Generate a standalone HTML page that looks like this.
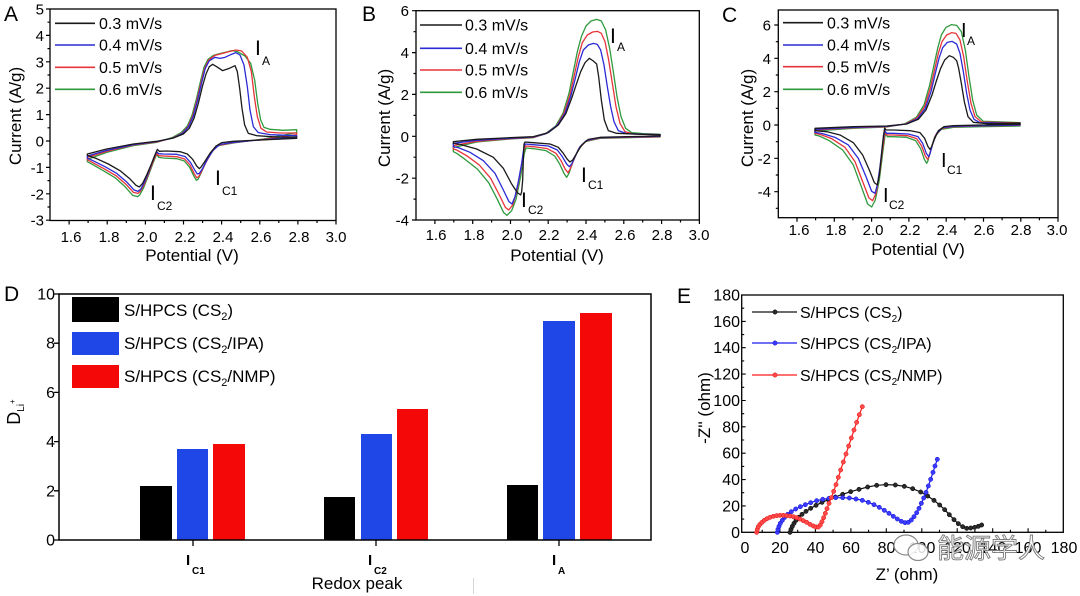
<!DOCTYPE html>
<html><head><meta charset="utf-8"><style>
html,body{margin:0;padding:0;background:#fff;}
svg{display:block;font-family:"Liberation Sans","Noto Sans CJK SC",sans-serif;}
.c{fill:none;stroke-width:1.3;stroke-linejoin:round;}
</style></head><body>
<svg width="1080" height="596" viewBox="0 0 1080 596" xmlns="http://www.w3.org/2000/svg">
<rect width="1080" height="596" fill="#fff"/>
<defs>
<marker id="mk" markerUnits="userSpaceOnUse" markerWidth="20" markerHeight="20" refX="10" refY="10" viewBox="0 0 20 20"><circle cx="10" cy="10" r="6.5" fill="#2a2a2a" stroke="#000" stroke-width="1.5"/></marker>
<marker id="mb" markerUnits="userSpaceOnUse" markerWidth="20" markerHeight="20" refX="10" refY="10" viewBox="0 0 20 20"><circle cx="10" cy="10" r="6.5" fill="#3b3bff" stroke="#1010d0" stroke-width="1.5"/></marker>
<marker id="mr" markerUnits="userSpaceOnUse" markerWidth="20" markerHeight="20" refX="10" refY="10" viewBox="0 0 20 20"><circle cx="10" cy="10" r="6.5" fill="#ff4a4a" stroke="#e01010" stroke-width="1.5"/></marker>
</defs>

<!-- ================= PANEL A ================= -->
<text x="4" y="21" font-size="21">A</text>
<rect x="50" y="9" width="286" height="211.5" fill="none" stroke="#000" stroke-width="1.3"/>
<path stroke="#000" stroke-width="1.2" d="M69.1,220.5v4M107.2,220.5v4M145.4,220.5v4M183.5,220.5v4M221.6,220.5v4M259.8,220.5v4M297.9,220.5v4M336,220.5v4M88.1,220.5v2.5M126.3,220.5v2.5M164.4,220.5v2.5M202.6,220.5v2.5M240.7,220.5v2.5M278.8,220.5v2.5M317,220.5v2.5
M50,9h-4M50,35.4h-4M50,61.8h-4M50,88.2h-4M50,114.6h-4M50,141h-4M50,167.4h-4M50,193.8h-4M50,220.2h-4M50,22.2h-2.5M50,48.6h-2.5M50,75h-2.5M50,101.4h-2.5M50,127.8h-2.5M50,154.2h-2.5M50,180.6h-2.5M50,207h-2.5"/>
<g font-size="15" text-anchor="end">
<text x="44" y="14.5">5</text><text x="44" y="40.9">4</text><text x="44" y="67.3">3</text><text x="44" y="93.7">2</text><text x="44" y="120.1">1</text><text x="44" y="146.5">0</text><text x="44" y="172.9">-1</text><text x="44" y="199.3">-2</text><text x="44" y="225.7">-3</text>
</g>
<g font-size="15" text-anchor="middle">
<text x="71" y="242">1.6</text><text x="109" y="242">1.8</text><text x="147" y="242">2.0</text><text x="185" y="242">2.2</text><text x="223" y="242">2.4</text><text x="261" y="242">2.6</text><text x="299" y="242">2.8</text><text x="336" y="242">3.0</text>
</g>
<text x="192" y="261" font-size="17" text-anchor="middle">Potential (V)</text>
<text transform="translate(21,116) rotate(-90)" font-size="17" text-anchor="middle">Current (A/g)</text>
<g transform="scale(0.33333)">
<path class="c" vector-effect="non-scaling-stroke" stroke="#2f9a3e" d="M262,478 L320,457 L400,437 L470,427 L516,413 L543,398 L562,378 L576,346 L589,298 L601,246 L612,202 L624,178 L640,166 L662,160 L680,156 L695,152 L712,155 L735,168 L752,190 L764,240 L773,310 L782,360 L792,382 L810,388 L850,391 L890,389 L890,398 L790,417 L700,429 L650,438 L632,458 L615,492 L602,522 L594,538 L589,541 L581,527 L569,502 L553,483 L530,476 L490,474 L476,472 L470,463 L460,487 L444,530 L430,565 L419,585 L413,590 L398,586 L375,560 L345,533 L310,512 L282,496 L262,485 Z"/>
<path class="c" vector-effect="non-scaling-stroke" stroke="#e6343a" d="M262,472 L320,454 L400,435 L470,426 L518,414 L546,400 L564,380 L578,348 L591,300 L603,248 L614,205 L626,180 L645,166 L668,160 L690,154 L708,150 L725,153 L742,172 L754,215 L763,290 L772,350 L783,385 L800,396 L840,399 L890,399 L890,404 L790,418 L700,428 L655,436 L636,455 L618,487 L604,515 L596,530 L590,533 L582,520 L570,495 L554,477 L530,470 L490,468 L476,467 L470,460 L461,480 L446,520 L432,555 L420,575 L414,580 L400,577 L378,553 L348,527 L312,506 L282,490 L262,479 Z"/>
<path class="c" vector-effect="non-scaling-stroke" stroke="#2b2bd6" d="M262,468 L320,451 L400,434 L470,425 L520,414 L548,400 L566,380 L580,348 L593,300 L605,248 L616,205 L628,182 L645,172 L660,175 L675,172 L692,164 L708,158 L720,165 L732,195 L742,260 L750,330 L760,380 L775,398 L810,404 L890,407 L890,411 L790,419 L700,427 L660,433 L640,450 L622,478 L608,505 L598,520 L592,522 L584,510 L572,488 L556,470 L530,463 L490,462 L476,461 L470,455 L462,472 L448,510 L434,545 L422,568 L414,574 L402,570 L380,546 L350,520 L315,500 L285,485 L262,474 Z"/>
<path class="c" vector-effect="non-scaling-stroke" stroke="#1a1a1a" d="M262,462 L320,447 L400,432 L470,424 L520,414 L550,402 L568,385 L582,355 L595,310 L607,260 L618,222 L628,200 L638,193 L650,200 L668,212 L688,205 L705,197 L712,215 L719,265 L726,325 L734,375 L745,400 L770,407 L830,411 L890,411 L890,415 L800,419 L700,424 L665,428 L648,438 L630,460 L614,485 L604,500 L598,506 L590,498 L578,478 L562,462 L540,455 L500,453 L478,454 L472,448 L466,462 L455,490 L440,525 L428,550 L418,561 L408,556 L388,535 L360,512 L325,492 L290,476 L262,466 Z"/>
</g>
<g stroke-width="1.6">
<line x1="55" y1="23.3" x2="95" y2="23.3" stroke="#1a1a1a"/>
<line x1="55" y1="45" x2="95" y2="45" stroke="#2b2bd6"/>
<line x1="55" y1="67.3" x2="95" y2="67.3" stroke="#e6343a"/>
<line x1="55" y1="89.3" x2="95" y2="89.3" stroke="#2f9a3e"/>
</g>
<g font-size="16">
<text x="99" y="29">0.3 mV/s</text><text x="99" y="50.7">0.4 mV/s</text><text x="99" y="73">0.5 mV/s</text><text x="99" y="95">0.6 mV/s</text>
</g>
<text x="255" y="55" font-size="21">I</text><text x="262" y="65" font-size="12">A</text>
<text x="215" y="185" font-size="21">I</text><text x="222" y="195" font-size="12">C1</text>
<text x="150" y="200" font-size="21">I</text><text x="157" y="210" font-size="12">C2</text>

<!-- ================= PANEL B ================= -->
<text x="362" y="21" font-size="21">B</text>
<rect x="416" y="10.7" width="283.3" height="209.3" fill="none" stroke="#000" stroke-width="1.3"/>
<path stroke="#000" stroke-width="1.2" d="M434.9,220v4M472.7,220v4M510.5,220v4M548.2,220v4M586,220v4M623.8,220v4M661.6,220v4M699.4,220v4M453.8,220v2.5M491.6,220v2.5M529.3,220v2.5M567.1,220v2.5M604.9,220v2.5M642.7,220v2.5M680.5,220v2.5
M416,10.7h-4M416,52.6h-4M416,94.4h-4M416,136.3h-4M416,178.2h-4M416,220h-4M416,31.7h-2.5M416,73.5h-2.5M416,115.4h-2.5M416,157.2h-2.5M416,199.1h-2.5"/>
<g font-size="15" text-anchor="end">
<text x="409" y="16.2">6</text><text x="409" y="58.1">4</text><text x="409" y="99.9">2</text><text x="409" y="141.8">0</text><text x="409" y="183.7">-2</text><text x="409" y="225.5">-4</text>
</g>
<g font-size="15" text-anchor="middle">
<text x="436" y="240">1.6</text><text x="474" y="240">1.8</text><text x="512" y="240">2.0</text><text x="549" y="240">2.2</text><text x="587" y="240">2.4</text><text x="625" y="240">2.6</text><text x="662" y="240">2.8</text><text x="699" y="240">3.0</text>
</g>
<text x="557" y="261" font-size="17" text-anchor="middle">Potential (V)</text>
<text transform="translate(390,118) rotate(-90)" font-size="17" text-anchor="middle">Current (A/g)</text>
<g transform="translate(360,0) scale(0.33333)">
<path class="c" vector-effect="non-scaling-stroke" stroke="#2f9a3e" d="M280,443 L350,426 L450,417 L520,413 L555,402 L587,378 L609,340 L627,280 L640,215 L652,155 L664,110 L678,78 L693,63 L710,58 L724,63 L737,90 L749,145 L760,215 L771,290 L783,350 L797,385 L815,398 L850,401 L900,403 L900,411 L800,413 L720,415 L676,425 L654,450 L638,488 L627,520 L620,532 L612,520 L599,492 L584,468 L558,452 L520,446 L498,444 L493,460 L482,530 L468,598 L455,632 L441,646 L431,638 L412,598 L386,548 L352,507 L315,478 L290,460 L280,455 Z"/>
<path class="c" vector-effect="non-scaling-stroke" stroke="#e6343a" d="M280,437 L350,424 L450,416 L520,412 L558,401 L590,377 L612,340 L630,285 L643,225 L655,170 L667,128 L682,105 L698,96 L712,94 L724,100 L735,125 L746,180 L757,250 L768,320 L780,370 L795,395 L820,402 L900,404 L900,410 L800,412 L720,414 L678,423 L657,445 L641,480 L630,508 L624,518 L616,508 L603,482 L588,460 L562,446 L520,440 L497,438 L492,450 L482,510 L470,575 L458,615 L446,630 L436,622 L418,585 L392,535 L358,495 L320,467 L290,450 L280,447 Z"/>
<path class="c" vector-effect="non-scaling-stroke" stroke="#2b2bd6" d="M280,430 L350,421 L450,415 L520,411 L560,400 L592,376 L615,340 L632,290 L646,235 L658,185 L670,150 L685,135 L700,130 L712,133 L722,150 L732,195 L742,260 L752,320 L762,365 L775,392 L800,401 L900,404 L900,409 L800,411 L720,413 L680,421 L660,440 L645,470 L635,492 L628,500 L620,492 L607,470 L592,450 L565,438 L520,434 L496,432 L492,440 L485,490 L475,545 L465,590 L456,612 L447,605 L430,570 L405,520 L370,482 L330,457 L295,443 L280,440 Z"/>
<path class="c" vector-effect="non-scaling-stroke" stroke="#1a1a1a" d="M280,425 L350,418 L450,413 L520,410 L565,398 L595,375 L618,340 L635,295 L650,250 L662,215 L675,188 L688,175 L700,183 L710,192 L716,230 L724,300 L733,360 L745,392 L770,400 L850,403 L900,404 L900,408 L800,410 L720,412 L685,418 L665,435 L650,460 L638,480 L630,486 L622,478 L610,460 L595,442 L570,432 L520,428 L495,426 L492,432 L490,480 L488,540 L485,575 L482,585 L472,578 L455,552 L430,505 L400,472 L350,447 L300,433 L280,430 Z"/>
</g>
<g stroke-width="1.6">
<line x1="420" y1="25" x2="462" y2="25" stroke="#1a1a1a"/>
<line x1="420" y1="48.3" x2="462" y2="48.3" stroke="#2b2bd6"/>
<line x1="420" y1="70" x2="462" y2="70" stroke="#e6343a"/>
<line x1="420" y1="92.3" x2="462" y2="92.3" stroke="#2f9a3e"/>
</g>
<g font-size="16">
<text x="465" y="30.7">0.3 mV/s</text><text x="465" y="54">0.4 mV/s</text><text x="465" y="75.7">0.5 mV/s</text><text x="465" y="98">0.6 mV/s</text>
</g>
<text x="610" y="43" font-size="21">I</text><text x="617" y="51" font-size="12">A</text>
<text x="581" y="182" font-size="21">I</text><text x="588" y="189" font-size="12">C1</text>
<text x="521" y="207" font-size="21">I</text><text x="528" y="214" font-size="12">C2</text>

<!-- ================= PANEL C ================= -->
<text x="722" y="22" font-size="21">C</text>
<rect x="778.3" y="10" width="279.7" height="207.7" fill="none" stroke="#000" stroke-width="1.3"/>
<path stroke="#000" stroke-width="1.2" d="M797,217.7v4M834.3,217.7v4M871.6,217.7v4M908.9,217.7v4M946.2,217.7v4M983.5,217.7v4M1020.8,217.7v4M1058,217.7v4M815.6,217.7v2.5M852.9,217.7v2.5M890.2,217.7v2.5M927.5,217.7v2.5M964.8,217.7v2.5M1002.1,217.7v2.5M1039.4,217.7v2.5
M778.3,25h-4M778.3,58.3h-4M778.3,91.7h-4M778.3,125h-4M778.3,158.3h-4M778.3,191.7h-4M778.3,41.7h-2.5M778.3,75h-2.5M778.3,108.3h-2.5M778.3,141.7h-2.5M778.3,175h-2.5M778.3,208.3h-2.5"/>
<g font-size="15" text-anchor="end">
<text x="771" y="30.5">6</text><text x="771" y="63.8">4</text><text x="771" y="97.2">2</text><text x="771" y="130.5">0</text><text x="771" y="163.8">-2</text><text x="771" y="197.2">-4</text>
</g>
<g font-size="15" text-anchor="middle">
<text x="799" y="235">1.6</text><text x="836" y="235">1.8</text><text x="873" y="235">2.0</text><text x="910" y="235">2.2</text><text x="947" y="235">2.4</text><text x="984" y="235">2.6</text><text x="1021" y="235">2.8</text><text x="1057" y="235">3.0</text>
</g>
<text x="918" y="255" font-size="17" text-anchor="middle">Potential (V)</text>
<text transform="translate(753,118) rotate(-90)" font-size="17" text-anchor="middle">Current (A/g)</text>
<g transform="translate(720,0) scale(0.33333)">
<path class="c" vector-effect="non-scaling-stroke" stroke="#2f9a3e" d="M285,393 L400,385 L500,381 L554,372 L589,352 L612,315 L629,255 L642,195 L653,145 L664,105 L678,82 L694,74 L710,76 L724,95 L736,150 L747,230 L758,300 L770,345 L790,364 L900,368 L900,378 L780,380 L700,382 L664,388 L644,410 L632,450 L624,482 L620,490 L613,478 L602,446 L587,422 L560,412 L520,410 L502,410 L496,400 L488,460 L478,540 L466,600 L455,621 L443,612 L424,560 L400,495 L368,450 L328,422 L298,408 L285,405 Z"/>
<path class="c" vector-effect="non-scaling-stroke" stroke="#e6343a" d="M285,390 L400,383 L500,380 L556,372 L591,354 L614,320 L631,265 L644,208 L655,160 L666,125 L680,105 L695,98 L708,100 L720,120 L731,170 L742,245 L753,310 L765,350 L785,366 L900,369 L900,376 L780,378 L700,380 L666,385 L647,405 L635,440 L627,470 L623,478 L616,468 L605,438 L590,416 L562,407 L520,405 L501,405 L495,396 L488,445 L479,520 L468,580 L458,602 L447,594 L428,545 L405,485 L375,442 L335,416 L300,403 L285,400 Z"/>
<path class="c" vector-effect="non-scaling-stroke" stroke="#2b2bd6" d="M285,388 L400,382 L500,379 L558,372 L593,356 L616,325 L633,275 L646,220 L657,175 L668,143 L682,127 L696,124 L710,132 L720,160 L730,215 L740,280 L750,330 L762,358 L780,368 L900,370 L900,375 L780,377 L700,379 L668,383 L650,400 L638,432 L630,462 L626,470 L619,460 L608,430 L594,410 L565,402 L520,400 L500,400 L494,392 L488,430 L480,500 L472,555 L465,580 L455,574 L438,530 L415,475 L385,435 L345,412 L305,400 L285,397 Z"/>
<path class="c" vector-effect="non-scaling-stroke" stroke="#1a1a1a" d="M285,385 L400,380 L500,378 L560,372 L595,358 L618,330 L636,285 L650,240 L662,205 L674,180 L688,167 L700,172 L710,182 L716,205 L724,250 L733,305 L744,350 L760,367 L800,371 L900,369 L900,373 L780,375 L700,377 L672,380 L655,392 L643,418 L635,440 L630,448 L624,440 L614,415 L600,398 L570,392 L520,390 L498,390 L494,384 L490,410 L484,470 L478,525 L472,555 L463,548 L448,510 L428,465 L400,428 L360,405 L320,395 L285,392 Z"/>
</g>
<g stroke-width="1.6">
<line x1="783" y1="22.7" x2="823" y2="22.7" stroke="#1a1a1a"/>
<line x1="783" y1="45" x2="823" y2="45" stroke="#2b2bd6"/>
<line x1="783" y1="66.7" x2="823" y2="66.7" stroke="#e6343a"/>
<line x1="783" y1="89.3" x2="823" y2="89.3" stroke="#2f9a3e"/>
</g>
<g font-size="16">
<text x="827" y="28.4">0.3 mV/s</text><text x="827" y="50.7">0.4 mV/s</text><text x="827" y="72.4">0.5 mV/s</text><text x="827" y="95">0.6 mV/s</text>
</g>
<text x="961" y="37" font-size="20">I</text><text x="967" y="45" font-size="12">A</text>
<text x="941" y="167" font-size="20">I</text><text x="947" y="174" font-size="12">C1</text>
<text x="883" y="202" font-size="20">I</text><text x="889" y="209" font-size="12">C2</text>

<!-- ================= PANEL D ================= -->
<text x="4" y="301" font-size="21">D</text>
<g>
<rect x="140" y="486" width="32" height="54" fill="#000"/>
<rect x="177" y="449" width="31" height="91" fill="#1f46e6"/>
<rect x="213" y="444" width="32" height="96" fill="#f50808"/>
<rect x="324" y="497" width="31" height="43" fill="#000"/>
<rect x="361" y="434" width="31" height="106" fill="#1f46e6"/>
<rect x="397" y="409" width="31" height="131" fill="#f50808"/>
<rect x="507" y="485" width="31" height="55" fill="#000"/>
<rect x="543" y="321" width="32" height="219" fill="#1f46e6"/>
<rect x="580" y="313" width="32" height="227" fill="#f50808"/>
</g>
<rect x="59" y="294" width="592" height="246" fill="none" stroke="#000" stroke-width="1.5"/>
<path stroke="#000" stroke-width="1.3" d="M59,294h-5M59,343.2h-5M59,392.4h-5M59,441.6h-5M59,490.8h-5M59,540h-5M193,540v6M376,540v6M559,540v6"/>
<g font-size="16" text-anchor="end">
<text x="55" y="299.5">10</text><text x="55" y="348.7">8</text><text x="55" y="397.9">6</text><text x="55" y="447.1">4</text><text x="55" y="496.3">2</text><text x="55" y="545.5">0</text>
</g>
<text transform="translate(20,412) rotate(-90)" font-size="18" text-anchor="middle">D<tspan font-size="10" dy="4">Li</tspan><tspan font-size="8" dy="-9">+</tspan></text>
<rect x="72" y="297" width="47" height="25" fill="#000"/>
<rect x="72" y="332" width="47" height="23" fill="#1f46e6"/>
<rect x="72" y="365" width="47" height="23" fill="#f50808"/>
<g font-size="17">
<text x="124" y="316">S/HPCS (CS<tspan font-size="11" dy="4">2</tspan><tspan dy="-4">)</tspan></text>
<text x="124" y="349">S/HPCS (CS<tspan font-size="11" dy="4">2</tspan><tspan dy="-4">/IPA)</tspan></text>
<text x="124" y="382">S/HPCS (CS<tspan font-size="11" dy="4">2</tspan><tspan dy="-4">/NMP)</tspan></text>
</g>
<g font-weight="bold">
<text x="186" y="565" font-size="15">I</text><text x="192" y="574" font-size="10">C1</text>
<text x="368" y="565" font-size="15">I</text><text x="374" y="574" font-size="10">C2</text>
<text x="552" y="565" font-size="15">I</text><text x="558" y="574" font-size="10">A</text>
</g>
<text x="357" y="589" font-size="17" text-anchor="middle">Redox peak</text>
<line x1="473.5" y1="578" x2="473.5" y2="594" stroke="#d6d6d6" stroke-width="1"/>

<!-- ================= PANEL E ================= -->
<text x="677" y="303" font-size="21">E</text>
<rect x="741.7" y="295" width="321.6" height="237.3" fill="none" stroke="#000" stroke-width="1.3"/>
<path stroke="#000" stroke-width="1.1" d="M779.9,532.3v-4M815.4,532.3v-4M850.9,532.3v-4M886.3,532.3v-4M921.8,532.3v-4M957.2,532.3v-4M992.7,532.3v-4M1028.1,532.3v-4M762.2,532.3v-2.5M797.7,532.3v-2.5M833.1,532.3v-2.5M868.6,532.3v-2.5M904,532.3v-2.5M939.5,532.3v-2.5M974.9,532.3v-2.5M1010.4,532.3v-2.5M1045.8,532.3v-2.5
M741.7,505.9h4M741.7,479.6h4M741.7,453.2h4M741.7,426.8h4M741.7,400.5h4M741.7,374.1h4M741.7,347.7h4M741.7,321.4h4M741.7,519.1h2.5M741.7,492.7h2.5M741.7,466.4h2.5M741.7,440h2.5M741.7,413.7h2.5M741.7,387.3h2.5M741.7,360.9h2.5M741.7,334.6h2.5M741.7,308.2h2.5"/>
<g font-size="16" text-anchor="end">
<text x="740" y="300.5">180</text><text x="740" y="326.9">160</text><text x="740" y="353.2">140</text><text x="740" y="379.6">120</text><text x="740" y="406">100</text><text x="740" y="432.3">80</text><text x="740" y="458.7">60</text><text x="740" y="485.1">40</text><text x="740" y="511.4">20</text><text x="740" y="537.8">0</text>
</g>
<g font-size="16" text-anchor="middle">
<text x="745" y="553">0</text><text x="780" y="553">20</text><text x="815.5" y="553">40</text><text x="851" y="553">60</text><text x="886.5" y="553">80</text><text x="922" y="553">100</text><text x="957.5" y="553">120</text><text x="993" y="553">140</text><text x="1028" y="553">160</text><text x="1064" y="553">180</text>
</g>
<text x="907" y="580" font-size="17" text-anchor="middle">Z’ (ohm)</text>
<text transform="translate(710,408) rotate(-90)" font-size="17" text-anchor="middle">-Z'' (ohm)</text>
<g transform="translate(690,270) scale(0.33333)">
<polyline fill="none" stroke="#111" stroke-width="1.2" vector-effect="non-scaling-stroke" marker-start="url(#mk)" marker-mid="url(#mk)" marker-end="url(#mk)" points="300,787 303,778 307,769 312,760 318,751 326,742 336,733 348,724 362,715 378,706 396,697 415,689 436,681 458,673 482,665 507,658 533,651 560,646 588,644 616,645 643,649 668,656 692,666 713,678 732,691 749,705 764,719 778,734 792,749 805,761 818,770 830,775 842,774 854,772 865,769 875,765"/>
<polyline fill="none" stroke="#1a1aee" stroke-width="1.2" vector-effect="non-scaling-stroke" marker-start="url(#mb)" marker-mid="url(#mb)" marker-end="url(#mb)" points="262,787 264,778 267,769 271,760 277,751 284,742 293,733 304,725 317,717 331,710 346,704 362,698 380,692 398,688 417,685 437,683 458,683 478,684 498,687 517,691 535,697 552,704 568,712 583,721 597,730 610,739 622,747 634,754 645,758 655,757 664,750 672,740 680,728 687,715 694,700 701,684 708,667 715,648 722,628 729,607 735,588 742,568"/>
<polyline fill="none" stroke="#ff1a1a" stroke-width="1.2" vector-effect="non-scaling-stroke" marker-start="url(#mr)" marker-mid="url(#mr)" marker-end="url(#mr)" points="200,787 202,778 205,770 210,763 216,757 223,751 231,746 240,742 250,739 260,737 270,736 280,736 290,737 300,738 310,740 320,743 330,747 340,752 350,757 360,763 370,768 378,771 385,771 391,765 396,755 401,743 406,730 411,716 417,700 424,683 431,664 438,644 445,622 452,600 460,576 468,552 476,528 484,504 492,480 500,457 508,434 517,410"/>
</g>
<g stroke-width="1.3">
<line x1="752" y1="312" x2="797" y2="312" stroke="#111"/>
<line x1="752" y1="343" x2="797" y2="343" stroke="#1a1aee"/>
<line x1="752" y1="375" x2="797" y2="375" stroke="#ff1a1a"/>
</g>
<circle cx="775" cy="312" r="2.2" fill="#2a2a2a" stroke="#000" stroke-width="0.5"/>
<circle cx="775" cy="343" r="2.2" fill="#3b3bff" stroke="#1010d0" stroke-width="0.5"/>
<circle cx="775" cy="375" r="2.2" fill="#ff4a4a" stroke="#e01010" stroke-width="0.5"/>
<g font-size="16">
<text x="800" y="318">S/HPCS (CS<tspan font-size="10" dy="4">2</tspan><tspan dy="-4">)</tspan></text>
<text x="800" y="349">S/HPCS (CS<tspan font-size="10" dy="4">2</tspan><tspan dy="-4">/IPA)</tspan></text>
<text x="800" y="381">S/HPCS (CS<tspan font-size="10" dy="4">2</tspan><tspan dy="-4">/NMP)</tspan></text>
</g>
<!-- watermark -->
<g>
<ellipse cx="906" cy="545" rx="12" ry="10" fill="#fff" fill-opacity="0.85" stroke="#8a8a8a" stroke-width="1.2"/>
<ellipse cx="918" cy="552" rx="10" ry="8.5" fill="#fff" fill-opacity="0.85" stroke="#8a8a8a" stroke-width="1.2"/>
<text x="937" y="558" font-size="27" fill="#fff" fill-opacity="0.85" stroke="#7a7a7a" stroke-width="0.9" font-family="'Noto Sans CJK SC','WenQuanYi Zen Hei',sans-serif">能源学人</text>
</g>
</svg>
</body></html>
